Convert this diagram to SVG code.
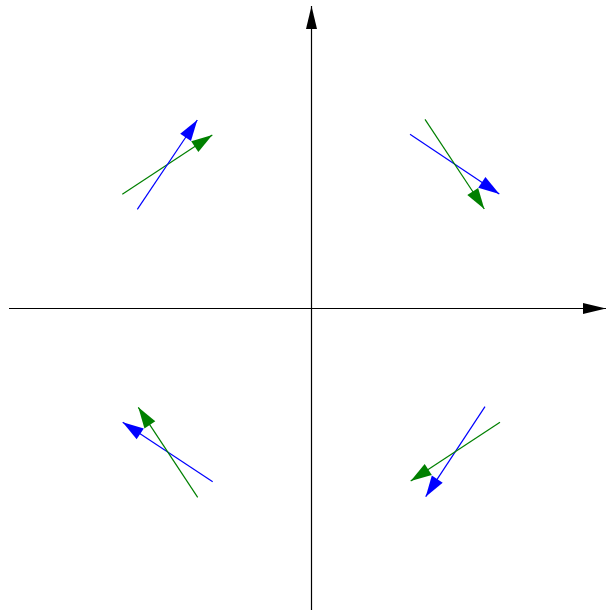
<svg xmlns="http://www.w3.org/2000/svg" width="607" height="610" viewBox="0 0 607 610">
<style>
.axis{stroke:#000;stroke-width:1.2;fill:none}
.b{stroke:#0000ff;stroke-width:1.2;fill:none;marker-end:url(#hb)}
.g{stroke:#008000;stroke-width:1.2;fill:none;marker-end:url(#hg)}
</style>
<defs>
<marker id="ha" markerUnits="userSpaceOnUse" orient="auto" refX="0" refY="0" markerWidth="30" markerHeight="16" viewBox="-24 -8 30 16" overflow="visible"><path d="M0,0 L-23,-5.5 L-23,5.5 Z" fill="#000"/></marker>
<marker id="hb" markerUnits="userSpaceOnUse" orient="auto" refX="0" refY="0" markerWidth="30" markerHeight="16" viewBox="-24 -8 30 16" overflow="visible"><path d="M0,0 L-21,-6.5 L-21,6.5 Z" fill="#0000ff"/></marker>
<marker id="hg" markerUnits="userSpaceOnUse" orient="auto" refX="0" refY="0" markerWidth="30" markerHeight="16" viewBox="-24 -8 30 16" overflow="visible"><path d="M0,0 L-21,-6.5 L-21,6.5 Z" fill="#008000"/></marker>
</defs>
<g id="axes">
<line class="axis" x1="9" y1="308.5" x2="606" y2="308.5" marker-end="url(#ha)"/>
<line class="axis" x1="311.5" y1="610" x2="311.5" y2="6" marker-end="url(#ha)"/>
</g>
<g id="connectors">
<line class="g" x1="122.3" y1="194.3" x2="212.3" y2="135"/>
<line class="b" x1="137.3" y1="209.3" x2="197.3" y2="120"/>
<line class="b" x1="410" y1="134.3" x2="499.3" y2="194"/>
<line class="g" x1="425" y1="119.3" x2="484.3" y2="209"/>
<line class="b" x1="212.7" y1="481.7" x2="122.7" y2="422.3"/>
<line class="g" x1="197.7" y1="497.3" x2="138.3" y2="407.3"/>
<line class="b" x1="485" y1="406.7" x2="425.7" y2="496.7"/>
<line class="g" x1="500" y1="422.3" x2="410.7" y2="481"/>
</g>
</svg>
